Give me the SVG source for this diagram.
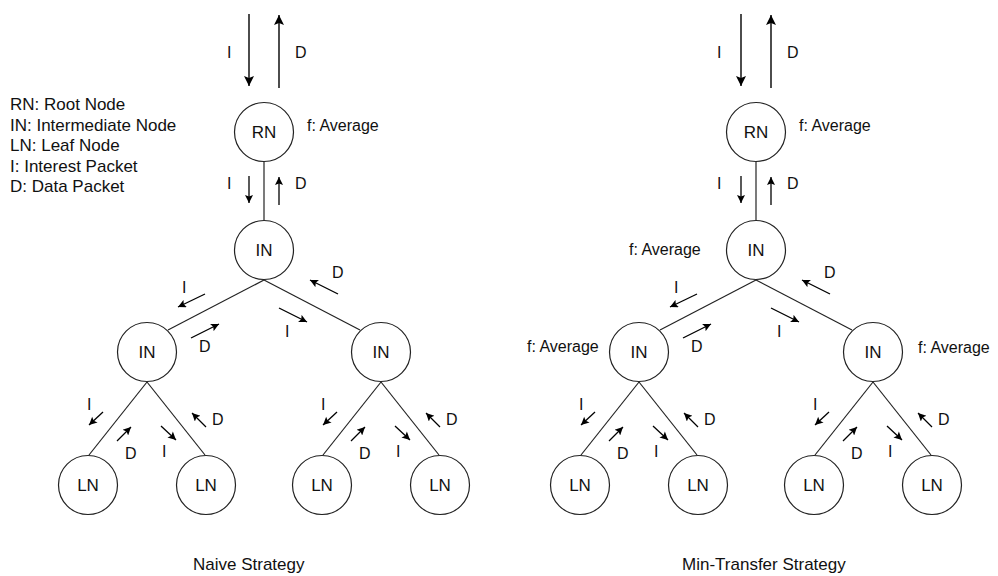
<svg xmlns="http://www.w3.org/2000/svg" width="998" height="576" viewBox="0 0 998 576">
  <style>
    text { font-family: "Liberation Sans", Arial, sans-serif; fill: #111; }
    .lbl { font-size: 16px; }
    .leg { font-size: 17px; }
    .cap { font-size: 17px; }
    .nd { font-size: 17px; text-anchor: middle; }
    .node circle { fill: #fff; stroke: #222; stroke-width: 1.2; }
    .edge { stroke: #222; stroke-width: 1.2; fill: none; }
    .big { stroke: #000; stroke-width: 1.4; fill: none; marker-end: url(#headBig); }
    .sm { stroke: #000; stroke-width: 1.3; fill: none; marker-end: url(#headSm); }
  </style>
  <defs>
    <marker id="headBig" viewBox="0 0 10 10" refX="10" refY="5" markerWidth="11" markerHeight="10" markerUnits="userSpaceOnUse" orient="auto">
      <path d="M0,0 L10,5 L0,10 L2,5 z" fill="#000"/>
    </marker>
    <marker id="headSm" viewBox="0 0 10 10" refX="10" refY="5" markerWidth="9" markerHeight="8" markerUnits="userSpaceOnUse" orient="auto">
      <path d="M0,0 L10,5 L0,10 L2,5 z" fill="#000"/>
    </marker>
  </defs>

  <!-- legend -->
  <g id="legend" class="leg">
    <text x="10" y="110">RN: Root Node</text>
    <text x="10" y="130.5">IN: Intermediate Node</text>
    <text x="10" y="151">LN: Leaf Node</text>
    <text x="10" y="171.5">I: Interest Packet</text>
    <text x="10" y="192">D: Data Packet</text>
  </g>

  <!-- naive strategy tree -->
  <g id="naive">
    <g id="naive-connectors">
      <line class="edge" x1="264" y1="162" x2="264" y2="220"/>
      <line class="edge" x1="264" y1="280" x2="168" y2="330"/>
      <line class="edge" x1="264" y1="280" x2="360" y2="330"/>
      <line class="edge" x1="147" y1="382" x2="89" y2="455"/>
      <line class="edge" x1="147" y1="382" x2="205" y2="455"/>
      <line class="edge" x1="381" y1="382" x2="323" y2="455"/>
      <line class="edge" x1="381" y1="382" x2="439" y2="455"/>
      <!-- packet flow arrows -->
      <line class="big" x1="249" y1="14" x2="249" y2="86"/>
      <line class="big" x1="279" y1="88" x2="279" y2="15"/>
      <line class="sm" x1="249" y1="176" x2="249" y2="203"/>
      <line class="sm" x1="279" y1="205" x2="279" y2="177"/>
      <line class="sm" x1="205" y1="294" x2="178" y2="307"/>
      <line class="sm" x1="191" y1="338" x2="219" y2="324"/>
      <line class="sm" x1="279" y1="308" x2="307" y2="322"/>
      <line class="sm" x1="338" y1="294" x2="310" y2="280"/>
      <line class="sm" x1="103" y1="412" x2="89" y2="425"/>
      <line class="sm" x1="117" y1="441" x2="131" y2="427"/>
      <line class="sm" x1="161" y1="426" x2="176" y2="440"/>
      <line class="sm" x1="206" y1="427" x2="192" y2="413"/>
      <line class="sm" x1="337" y1="412" x2="323" y2="425"/>
      <line class="sm" x1="351" y1="441" x2="365" y2="427"/>
      <line class="sm" x1="395" y1="426" x2="410" y2="440"/>
      <line class="sm" x1="440" y1="427" x2="426" y2="413"/>
    </g>
    <g id="naive-flow-labels" class="lbl">
      <text x="227" y="58">I</text>
      <text x="295" y="58">D</text>
      <text x="227" y="189">I</text>
      <text x="295" y="189">D</text>
      <text x="182" y="293">I</text>
      <text x="199" y="352">D</text>
      <text x="285" y="337">I</text>
      <text x="332" y="278">D</text>
      <text x="87" y="410">I</text>
      <text x="125" y="459">D</text>
      <text x="162" y="457">I</text>
      <text x="212" y="425">D</text>
      <text x="321" y="410">I</text>
      <text x="359" y="459">D</text>
      <text x="396" y="457">I</text>
      <text x="446" y="425">D</text>
    </g>
    <g id="naive-rn" class="node"><circle cx="264" cy="132" r="29.5"/><text class="nd" x="264" y="138">RN</text></g>
    <text class="lbl" x="307" y="131">f: Average</text>
    <g id="naive-in" class="node"><circle cx="264" cy="250" r="29.5"/><text class="nd" x="264" y="256">IN</text></g>
    <g id="naive-in-left" class="node"><circle cx="147" cy="352" r="29.5"/><text class="nd" x="147" y="358">IN</text></g>
    <g id="naive-in-right" class="node"><circle cx="381" cy="352" r="29.5"/><text class="nd" x="381" y="358">IN</text></g>
    <g id="naive-ln-1" class="node"><circle cx="88" cy="485" r="29.5"/><text class="nd" x="88" y="491">LN</text></g>
    <g id="naive-ln-2" class="node"><circle cx="206" cy="485" r="29.5"/><text class="nd" x="206" y="491">LN</text></g>
    <g id="naive-ln-3" class="node"><circle cx="322" cy="485" r="29.5"/><text class="nd" x="322" y="491">LN</text></g>
    <g id="naive-ln-4" class="node"><circle cx="440" cy="485" r="29.5"/><text class="nd" x="440" y="491">LN</text></g>
    <text class="cap" x="193" y="570">Naive Strategy</text>
  </g>

  <!-- min-transfer strategy tree -->
  <g id="min-transfer" transform="translate(492,0)">
    <g id="mt-connectors">
      <line class="edge" x1="264" y1="162" x2="264" y2="220"/>
      <line class="edge" x1="264" y1="280" x2="168" y2="330"/>
      <line class="edge" x1="264" y1="280" x2="360" y2="330"/>
      <line class="edge" x1="147" y1="382" x2="89" y2="455"/>
      <line class="edge" x1="147" y1="382" x2="205" y2="455"/>
      <line class="edge" x1="381" y1="382" x2="323" y2="455"/>
      <line class="edge" x1="381" y1="382" x2="439" y2="455"/>
      <line class="big" x1="249" y1="14" x2="249" y2="86"/>
      <line class="big" x1="279" y1="88" x2="279" y2="15"/>
      <line class="sm" x1="249" y1="176" x2="249" y2="203"/>
      <line class="sm" x1="279" y1="205" x2="279" y2="177"/>
      <line class="sm" x1="205" y1="294" x2="178" y2="307"/>
      <line class="sm" x1="191" y1="338" x2="219" y2="324"/>
      <line class="sm" x1="279" y1="308" x2="307" y2="322"/>
      <line class="sm" x1="338" y1="294" x2="310" y2="280"/>
      <line class="sm" x1="103" y1="412" x2="89" y2="425"/>
      <line class="sm" x1="117" y1="441" x2="131" y2="427"/>
      <line class="sm" x1="161" y1="426" x2="176" y2="440"/>
      <line class="sm" x1="206" y1="427" x2="192" y2="413"/>
      <line class="sm" x1="337" y1="412" x2="323" y2="425"/>
      <line class="sm" x1="351" y1="441" x2="365" y2="427"/>
      <line class="sm" x1="395" y1="426" x2="410" y2="440"/>
      <line class="sm" x1="440" y1="427" x2="426" y2="413"/>
    </g>
    <g id="mt-flow-labels" class="lbl">
      <text x="225" y="58">I</text>
      <text x="295" y="58">D</text>
      <text x="225" y="189">I</text>
      <text x="295" y="189">D</text>
      <text x="182" y="293">I</text>
      <text x="199" y="352">D</text>
      <text x="285" y="337">I</text>
      <text x="332" y="278">D</text>
      <text x="87" y="410">I</text>
      <text x="125" y="459">D</text>
      <text x="162" y="457">I</text>
      <text x="212" y="425">D</text>
      <text x="321" y="410">I</text>
      <text x="359" y="459">D</text>
      <text x="396" y="457">I</text>
      <text x="446" y="425">D</text>
    </g>
    <g id="mt-rn" class="node"><circle cx="264" cy="132" r="29.5"/><text class="nd" x="264" y="138">RN</text></g>
    <text class="lbl" x="307" y="131">f: Average</text>
    <g id="mt-in" class="node"><circle cx="264" cy="250" r="29.5"/><text class="nd" x="264" y="256">IN</text></g>
    <text class="lbl" x="137" y="255">f: Average</text>
    <g id="mt-in-left" class="node"><circle cx="147" cy="352" r="29.5"/><text class="nd" x="147" y="358">IN</text></g>
    <text class="lbl" x="35" y="352">f: Average</text>
    <g id="mt-in-right" class="node"><circle cx="381" cy="352" r="29.5"/><text class="nd" x="381" y="358">IN</text></g>
    <text class="lbl" x="426" y="353">f: Average</text>
    <g id="mt-ln-1" class="node"><circle cx="88" cy="485" r="29.5"/><text class="nd" x="88" y="491">LN</text></g>
    <g id="mt-ln-2" class="node"><circle cx="206" cy="485" r="29.5"/><text class="nd" x="206" y="491">LN</text></g>
    <g id="mt-ln-3" class="node"><circle cx="322" cy="485" r="29.5"/><text class="nd" x="322" y="491">LN</text></g>
    <g id="mt-ln-4" class="node"><circle cx="440" cy="485" r="29.5"/><text class="nd" x="440" y="491">LN</text></g>
  </g>
  <text class="cap" x="682" y="570">Min-Transfer Strategy</text>
</svg>
